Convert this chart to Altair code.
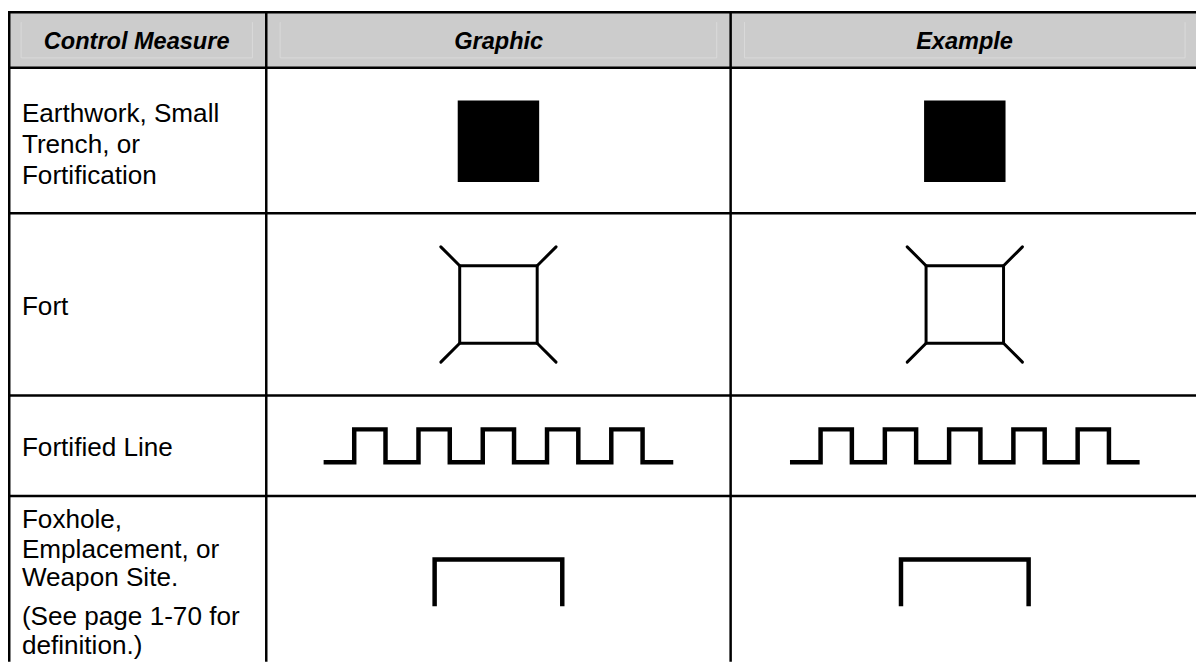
import altair as alt
import pandas as pd

# ---------------- table structure (page pixel positions) ----------------
col_edges = [9.25, 268, 735.5, 1207]
row_edges = [10, 66, 212.5, 396, 497, 671]

header_labels = ["Control Measure", "Graphic", "Example"]
header_centers = [137.5, 502, 971]
header_baseline = 47.5

measure_lines = [
    ["Earthwork, Small", "Trench, or", "Fortification"],
    ["Fort"],
    ["Fortified Line"],
    ["Foxhole,", "Emplacement, or", "Weapon Site.", "(See page 1-70 for", "definition.)"],
]
measure_baselines = [
    [120.7, 151.7, 182.7],
    [315],
    [457],
    [529, 559, 588, 627, 656],
]
text_left = 22

# ---------------- glyph shapes (offsets from cell centre) ----------------
solid_square = [-41, 41]                     # x and y extent
fort_box = [-39, 39]
fort_spokes_from = [(-39, -39), (39, -39), (-39, 39), (39, 39)]
fort_spokes_to = [(-58, -58), (58, -58), (-58, 58), (58, 58)]
fortified_x = [-176, -145.2, -145.2, -113.7, -113.7, -80.5, -80.5, -49, -49,
               -15.8, -15.8, 15.7, 15.7, 48.9, 48.9, 80.4, 80.4, 113.6, 113.6,
               145.1, 145.1, 176]
fortified_y = [16.5, 16.5, -16.5, -16.5, 16.5, 16.5, -16.5, -16.5, 16.5, 16.5,
               -16.5, -16.5, 16.5, 16.5, -16.5, -16.5, 16.5, 16.5, -16.5, -16.5,
               16.5, 16.5]
bracket_x = [-64.25, -64.25, 64.25, 64.25]
bracket_y = [24, -23, -23, 24]

# ---------------- helpers ----------------
XS = alt.Scale(domain=[8, 1204], nice=False, zero=False)
YS = alt.Scale(domain=[8, 664], nice=False, zero=False, reverse=True)


def X(f):
    return alt.X(f"{f}:Q", scale=XS, axis=None)


def Y(f):
    return alt.Y(f"{f}:Q", scale=YS, axis=None)


page_left, page_right, page_bottom = 8, 1204, 664
glyph_cols = [(col_edges[1] + col_edges[2]) / 2, (col_edges[2] + col_edges[3]) / 2]
row_centers = [(row_edges[i] + row_edges[i + 1]) / 2 for i in range(1, 5)]

# header background
header_df = pd.DataFrame({"x": [page_left], "x2": [page_right],
                          "y": [row_edges[0]], "y2": [row_edges[1]]})
header_bg = alt.Chart(header_df).mark_rect(color="#cccccc").encode(
    x=X("x"), x2="x2", y=Y("y"), y2="y2")

# faint inner header cell boxes
faint = []
for i in range(3):
    l = col_edges[i] + 12 if i == 0 else col_edges[i] + 14
    r = col_edges[i + 1] - 14
    faint.append({"x": l, "x2": r, "y": 56, "y2": 56})
    faint.append({"x": l, "x2": l, "y": 20, "y2": 56})
    faint.append({"x": r, "x2": r, "y": 20, "y2": 56})
faint_df = pd.DataFrame(faint)
faint_rules = alt.Chart(faint_df).mark_rule(color="#dadada", strokeWidth=1).encode(
    x=X("x"), x2="x2", y=Y("y"), y2="y2")

# grid lines
grid = []
for yv in row_edges[:5]:
    grid.append({"x": page_left, "x2": page_right, "y": yv, "y2": yv})
for xv in col_edges[:3]:
    grid.append({"x": xv, "x2": xv, "y": row_edges[0] - 1.25, "y2": page_bottom})
grid_df = pd.DataFrame(grid)
grid_rules = alt.Chart(grid_df).mark_rule(color="black", strokeWidth=2.5).encode(
    x=X("x"), x2="x2", y=Y("y"), y2="y2")

# header text
htext_df = pd.DataFrame({"x": header_centers, "y": [header_baseline] * 3,
                         "t": header_labels})
header_text = alt.Chart(htext_df).mark_text(
    font="Liberation Sans", fontSize=23.7, fontWeight="bold", fontStyle="italic",
    align="center", baseline="alphabetic", color="black").encode(
    x=X("x"), y=Y("y"), text="t:N")

# body text
body = []
for lines, bases in zip(measure_lines, measure_baselines):
    for t, b in zip(lines, bases):
        body.append({"x": text_left, "y": b, "t": t})
body_df = pd.DataFrame(body)
body_text = alt.Chart(body_df).mark_text(
    font="Liberation Sans", fontSize=26.3, align="left", baseline="alphabetic",
    color="black").encode(x=X("x"), y=Y("y"), text="t:N")

# solid squares (row 1)
sq = [{"x": cx + solid_square[0], "x2": cx + solid_square[1],
       "y": row_centers[0] + solid_square[0] + 0.75, "y2": row_centers[0] + solid_square[1] + 0.75}
      for cx in glyph_cols]
squares = alt.Chart(pd.DataFrame(sq)).mark_rect(color="black").encode(
    x=X("x"), x2="x2", y=Y("y"), y2="y2")

# fort (row 2)
fb = [{"x": cx + fort_box[0], "x2": cx + fort_box[1],
       "y": row_centers[1] + fort_box[0], "y2": row_centers[1] + fort_box[1]}
      for cx in glyph_cols]
fort_boxes = alt.Chart(pd.DataFrame(fb)).mark_rect(
    fill="white", fillOpacity=0, stroke="black", strokeWidth=3).encode(
    x=X("x"), x2="x2", y=Y("y"), y2="y2")
sp = []
for cx in glyph_cols:
    for (a, b), (c, d) in zip(fort_spokes_from, fort_spokes_to):
        sp.append({"x": cx + a, "y": row_centers[1] + b,
                   "x2": cx + c, "y2": row_centers[1] + d})
fort_spokes = alt.Chart(pd.DataFrame(sp)).mark_rule(
    color="black", strokeWidth=3, strokeCap="round").encode(
    x=X("x"), x2="x2", y=Y("y"), y2="y2")

# fortified line (row 3)
fl = []
for k, cx in enumerate(glyph_cols):
    for i, (dx, dy) in enumerate(zip(fortified_x, fortified_y)):
        fl.append({"g": f"f{k}", "i": i, "x": cx + dx, "y": row_centers[2] + dy})
fortified = alt.Chart(pd.DataFrame(fl)).mark_line(
    color="black", strokeWidth=4.5, strokeJoin="miter", strokeCap="butt").encode(
    x=X("x"), y=Y("y"), detail="g:N", order="i:Q")

# foxhole bracket (row 4)
br = []
for k, cx in enumerate(glyph_cols):
    for i, (dx, dy) in enumerate(zip(bracket_x, bracket_y)):
        br.append({"g": f"b{k}", "i": i, "x": cx + dx, "y": row_centers[3] + dy})
bracket = alt.Chart(pd.DataFrame(br)).mark_line(
    color="black", strokeWidth=4.5, strokeJoin="miter", strokeCap="butt").encode(
    x=X("x"), y=Y("y"), detail="g:N", order="i:Q")

chart = alt.layer(
    header_bg, faint_rules, grid_rules, header_text, body_text,
    squares, fort_boxes, fort_spokes, fortified, bracket
).properties(
    width=1196, height=656, padding=0, autosize="none", background="white"
).configure_view(strokeWidth=0)

chart.save("out.html", embed_options={"renderer": "svg", "actions": False})
